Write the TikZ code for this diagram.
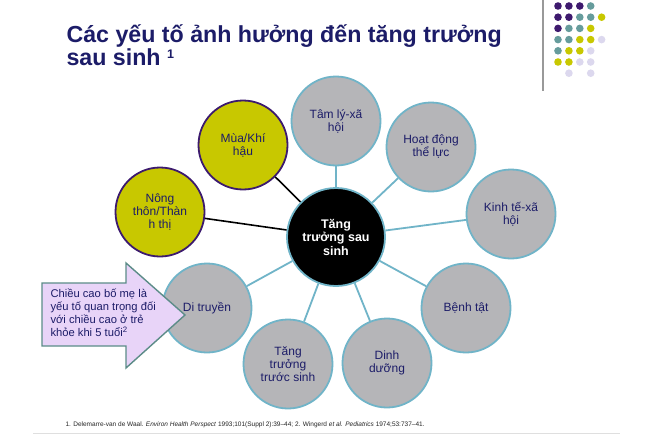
\documentclass[tikz,border=0pt]{standalone}
\usepackage{fontspec}
\setmainfont{Liberation Sans}
\definecolor{navy}{RGB}{28,28,104}
\definecolor{gfill}{RGB}{181,181,184}
\definecolor{tborder}{RGB}{112,180,200}
\definecolor{yfill}{RGB}{200,200,0}
\definecolor{ypurple}{RGB}{60,26,110}
\definecolor{dpurple}{RGB}{62,26,110}
\definecolor{dteal}{RGB}{102,156,156}
\definecolor{dyellow}{RGB}{200,200,0}
\definecolor{dlav}{RGB}{220,216,238}
\definecolor{afill}{RGB}{232,212,248}
\definecolor{aborder}{RGB}{92,140,136}
\begin{document}
\begin{tikzpicture}[x=1pt,y=-1pt,
  lbl/.style={font=\fontsize{12}{13}\selectfont, text=navy, align=center},
  gc/.style={circle, draw=tborder, line width=1.8pt, fill=gfill, minimum size=89pt, inner sep=0pt, lbl},
  yc/.style={circle, draw=ypurple, line width=1.8pt, fill=yfill, minimum size=89pt, inner sep=0pt, lbl},
  cc/.style={circle, draw=tborder, line width=1.8pt, fill=black, minimum size=98pt, inner sep=0pt, align=center, text=white, font=\fontsize{12.5}{13.5}\selectfont\bfseries},
  tline/.style={draw=tborder, line width=1.8pt},
  bline/.style={draw=black, line width=1.6pt},
  dotn/.style={circle, inner sep=0pt, minimum size=7.6pt},
  ttl/.style={anchor=base west, text=navy, font=\fontsize{23.2}{26}\selectfont\bfseries, text depth=0pt}
]
\useasboundingbox (0,0) rectangle (650,436);
\fill[white] (0,0) rectangle (650,436);

% title
\node[ttl] (t1) at (63,43) {Các yếu tố ảnh hưởng đến tăng trưởng};
\node[ttl, text height=13pt] (t2) at (63,66) {sau sinh \raisebox{7pt}{\fontsize{12.5}{13}\selectfont 1}};

% decoration
\draw[gray!80, line width=1.2pt] (543,0) coordinate (v1) -- (543,91) coordinate (v2);
\foreach \r/\cols in {0/{dpurple,dpurple,dpurple,dteal},
                      1/{dpurple,dpurple,dteal,dteal,dyellow},
                      2/{dpurple,dteal,dteal,dyellow},
                      3/{dteal,dteal,dyellow,dyellow,dlav},
                      4/{dteal,dyellow,dyellow,dlav},
                      5/{dyellow,dyellow,dlav,dlav}}{
  \foreach \c [count=\i from 0] in \cols {
    \node[dotn, fill=\c] (d\r\i) at (558+10.9*\i, 6+11.2*\r) {};
  }
}
\node[dotn, fill=dlav] (d61) at (568.9,73.2) {};
\node[dotn, fill=dlav] (d63) at (590.7,73.2) {};

% circles
\node[cc] (c) at (336,237) {Tăng\\trưởng sau\\sinh};
\node[gc] (tam) at (336,121) {Tâm lý-xã\\hội};
\node[gc] (hd) at (431,147) {Hoạt động\\thể lực};
\node[gc] (kt) at (511,214) {Kinh tế-xã\\hội};
\node[gc] (bt) at (466,308) {Bệnh tật};
\node[gc] (dd) at (387,363) {Dinh\\dưỡng};
\node[gc] (ttts) at (288,364) {Tăng\\trưởng\\trước sinh};
\node[gc] (dt) at (207,308) {Di truyền};
\node[yc] (nt) at (160,212) {Nông\\thôn/Thàn\\h thị};
\node[yc] (mua) at (243,145) {Mùa/Khí\\hậu};

% connectors
\foreach \n in {tam,hd,kt,bt,dd,ttts,dt} \draw[tline] (c) -- (\n);
\foreach \n in {nt,mua} \draw[bline] (c) -- (\n);

% arrow
\draw[fill=afill, draw=aborder, line width=1.4pt, line join=miter]
  (42,283) -- (126,283) -- (126,263) -- (185,315) -- (126,368) -- (126,346) -- (42,346) -- cycle;
\node[anchor=west, align=left, text=navy, font=\fontsize{11.2}{13}\selectfont] (atext) at (47,313)
  {Chiều cao bố mẹ là\\yếu tố quan trọng đối\\với chiều cao ở trẻ\\khỏe khi 5 tuổi\textsuperscript{2}};

% footnote
\node[anchor=base west, text=black!85, font=\fontsize{6.5}{7}\selectfont] (fn) at (62,426)
  {1. Delemarre-van de Waal. \textit{Environ Health Perspect} 1993;101(Suppl 2):39–44; 2. Wingerd \textit{et al.} \textit{Pediatrics} 1974;53:737–41.};
\draw[gray!25, line width=0.8pt] (33,433) coordinate (f1) -- (620,433) coordinate (f2);
\end{tikzpicture}
\end{document}
